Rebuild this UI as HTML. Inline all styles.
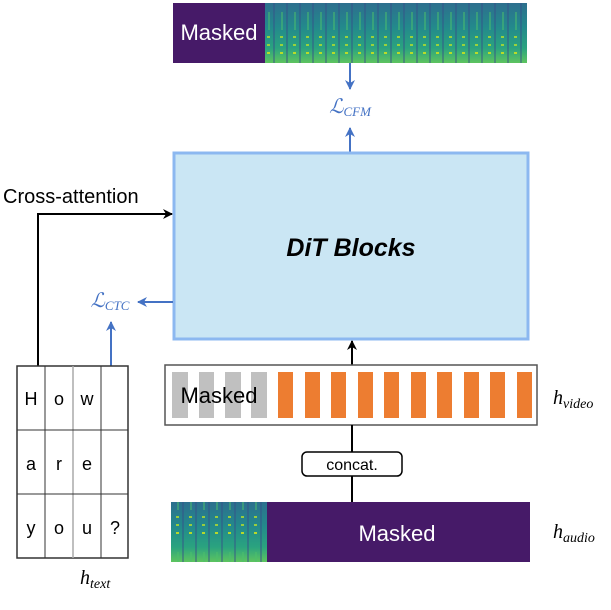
<!DOCTYPE html>
<html><head><meta charset="utf-8"><style>
html,body{margin:0;padding:0;background:#fff;}
svg{display:block;}
</style></head><body>
<svg width="611" height="610" viewBox="0 0 611 610" xmlns="http://www.w3.org/2000/svg" font-family="Liberation Sans, sans-serif">
<defs>
<linearGradient id="spec" x1="0" y1="0" x2="0" y2="1">
<stop offset="0" stop-color="#2d6f8e"/>
<stop offset="0.4" stop-color="#23898c"/>
<stop offset="0.75" stop-color="#2aa37f"/>
<stop offset="1" stop-color="#5ec45f"/>
</linearGradient>
<pattern id="stripes" width="13" height="60" patternUnits="userSpaceOnUse">
<rect x="0" y="0" width="2" height="60" fill="#35508a" opacity="0.45"/>
<rect x="7" y="36" width="3" height="2" fill="#b5de2b" opacity="0.8"/>
<rect x="7" y="44" width="3" height="2" fill="#b5de2b" opacity="0.8"/>
<rect x="7" y="52" width="3" height="2" fill="#c8e020" opacity="0.9"/>
<rect x="8" y="12" width="2" height="18" fill="#4cbf6b" opacity="0.5"/>
</pattern>
<marker id="ab" markerWidth="10" markerHeight="10" refX="9" refY="5" orient="auto" markerUnits="userSpaceOnUse"><path d="M0,0 L10,5 L0,10 L3,5 Z" fill="#000"/></marker>
<marker id="au" markerWidth="10" markerHeight="10" refX="9" refY="5" orient="auto" markerUnits="userSpaceOnUse"><path d="M0,0 L10,5 L0,10 L3,5 Z" fill="#4472c4"/></marker>
</defs>

<!-- top strip -->
<rect x="265" y="3" width="262" height="60" fill="url(#spec)"/>
<rect x="265" y="3" width="262" height="60" fill="url(#stripes)"/>
<rect x="173" y="3" width="92" height="60" fill="#461a68"/>
<text x="219" y="40" font-size="22" fill="#fff" text-anchor="middle">Masked</text>

<line x1="350" y1="63" x2="350" y2="89" stroke="#4472c4" stroke-width="2" marker-end="url(#au)"/>
<text x="350" y="113" font-size="20" fill="#4472c4" text-anchor="middle" font-family="Liberation Serif, serif" font-style="italic">ℒ<tspan font-size="13" dy="3">CFM</tspan></text>
<line x1="350" y1="152" x2="350" y2="128" stroke="#4472c4" stroke-width="2" marker-end="url(#au)"/>

<!-- DiT -->
<rect x="174" y="153" width="354" height="186" fill="#cae6f4" stroke="#8cb8f0" stroke-width="3"/>
<text x="351" y="256" font-size="25" font-weight="bold" font-style="italic" text-anchor="middle">DiT Blocks</text>

<!-- cross attention -->
<text x="3" y="203" font-size="20">Cross-attention</text>
<polyline points="38,366 38,214 172,214" fill="none" stroke="#000" stroke-width="2" marker-end="url(#ab)"/>

<!-- CTC -->
<line x1="173" y1="302" x2="138" y2="302" stroke="#4472c4" stroke-width="2" marker-end="url(#au)"/>
<text x="110" y="307" font-size="20" fill="#4472c4" text-anchor="middle" font-family="Liberation Serif, serif" font-style="italic">ℒ<tspan font-size="13" dy="3">CTC</tspan></text>
<line x1="111" y1="366" x2="111" y2="322" stroke="#4472c4" stroke-width="2" marker-end="url(#au)"/>

<!-- text table -->
<rect x="17" y="366" width="111" height="192" fill="#fff" stroke="#333" stroke-width="1.5"/>
<line x1="45" y1="366" x2="45" y2="558" stroke="#333"/>
<line x1="73" y1="366" x2="73" y2="558" stroke="#aaa" stroke-width="1.5"/>
<line x1="101" y1="366" x2="101" y2="558" stroke="#333"/>
<line x1="17" y1="430" x2="128" y2="430" stroke="#333"/>
<line x1="17" y1="494" x2="128" y2="494" stroke="#333"/>
<g font-size="18" text-anchor="middle">
<text x="31" y="405">H</text><text x="59" y="405">o</text><text x="87" y="405">w</text>
<text x="31" y="470">a</text><text x="59" y="470">r</text><text x="87" y="470">e</text>
<text x="31" y="534">y</text><text x="59" y="534">o</text><text x="87" y="534">u</text><text x="115" y="534">?</text>
</g>
<text x="80" y="584" font-size="20" font-family="Liberation Serif, serif" font-style="italic">h<tspan font-size="14" dy="4">text</tspan></text>

<!-- video -->
<line x1="352" y1="365" x2="352" y2="341" stroke="#000" stroke-width="2" marker-end="url(#ab)"/>
<rect x="165" y="365" width="372" height="60" fill="#fff" stroke="#555" stroke-width="1.5"/>
<g fill="#c0c0c0">
<rect x="172" y="372" width="16" height="46"/><rect x="199" y="372" width="15" height="46"/>
<rect x="225" y="372" width="16" height="46"/><rect x="251" y="372" width="16" height="46"/>
</g>
<g fill="#ed7d31">
<rect x="278" y="372" width="15" height="46"/><rect x="305" y="372" width="15" height="46"/>
<rect x="331" y="372" width="15" height="46"/><rect x="358" y="372" width="15" height="46"/>
<rect x="384" y="372" width="15" height="46"/><rect x="411" y="372" width="15" height="46"/>
<rect x="437" y="372" width="15" height="46"/><rect x="464" y="372" width="15" height="46"/>
<rect x="490" y="372" width="15" height="46"/><rect x="517" y="372" width="15" height="46"/>
</g>
<text x="219" y="403" font-size="22" text-anchor="middle">Masked</text>
<text x="553" y="404" font-size="20" font-family="Liberation Serif, serif" font-style="italic">h<tspan font-size="14" dy="4">video</tspan></text>

<!-- concat -->
<line x1="352" y1="425" x2="352" y2="502" stroke="#000" stroke-width="2"/>
<rect x="302" y="452" width="100" height="24" rx="5" fill="#fff" stroke="#000" stroke-width="1.5"/>
<text x="352" y="470" font-size="16" text-anchor="middle">concat.</text>

<!-- audio -->
<rect x="171" y="502" width="96" height="60" fill="url(#spec)"/>
<rect x="171" y="502" width="96" height="60" fill="url(#stripes)"/>
<rect x="267" y="502" width="263" height="60" fill="#461a68"/>
<text x="397" y="541" font-size="22" fill="#fff" text-anchor="middle">Masked</text>
<text x="553" y="538" font-size="20" font-family="Liberation Serif, serif" font-style="italic">h<tspan font-size="14" dy="4">audio</tspan></text>
</svg>
</body></html>
